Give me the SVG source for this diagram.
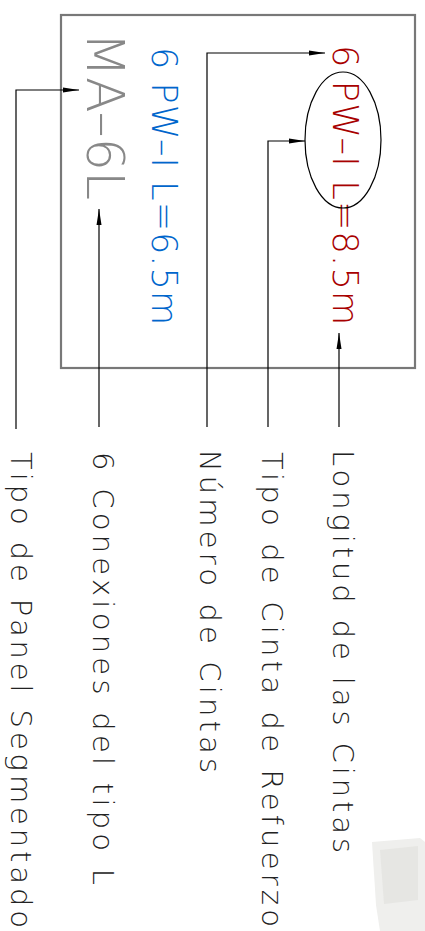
<svg xmlns="http://www.w3.org/2000/svg" width="425" height="931" viewBox="0 0 425 931">
<style>
.lbl{font-family:"DejaVu Sans","Liberation Sans",sans-serif;font-weight:200;font-size:29px;fill:#222;}
.main{font-family:"DejaVu Sans","Liberation Sans",sans-serif;font-weight:200;font-size:35px;}
.ln{fill:none;stroke:#000;stroke-width:1.2;}
</style>
<defs>
<marker id="ah" markerUnits="userSpaceOnUse" markerWidth="17" markerHeight="6" refX="16" refY="3" orient="auto">
<path d="M0,0.5 L16,3 L0,5.5 Z" fill="#000"/>
</marker>
</defs>
<rect width="425" height="931" fill="#fff"/>
<path d="M372,842 L420,838 L425,842 L425,931 L380,931 L376,905 Z" fill="#efefed"/>
<path d="M380,850 L418,846 L418,900 L384,904 Z" fill="#e6e6e3"/>
<g id="panel">
<rect x="61" y="15" width="354" height="353" fill="none" stroke="#787878" stroke-width="2.2"/>
</g>
<g id="red-text">
<text class="main" fill="#a80000" transform="translate(333,45) rotate(90)" textLength="280" lengthAdjust="spacing">6 PW–I L=8.5m</text>
</g>
<g id="ellipse">
<ellipse cx="343" cy="140" rx="38" ry="68" fill="none" stroke="#000" stroke-width="1.2"/>
</g>
<g id="blue-text">
<text class="main" fill="#0066cc" transform="translate(152,47) rotate(90)" textLength="278" lengthAdjust="spacing">6 PW–I L=6.5m</text>
</g>
<g id="gray-text">
<text class="main" style="font-size:52px" fill="#888" transform="translate(87,32) rotate(90)" textLength="168" lengthAdjust="spacingAndGlyphs">MA–6L</text>
</g>
<g id="connectors">
<path class="ln" d="M339,427 L339,333" marker-end="url(#ah)"/>
<path class="ln" d="M268,427 L268,141 L305,141" marker-end="url(#ah)"/>
<path class="ln" d="M207,427 L207,53 L325,53" marker-end="url(#ah)"/>
<path class="ln" d="M99,427 L99,209" marker-end="url(#ah)"/>
<path class="ln" d="M16,429 L16,90 L79,90" marker-end="url(#ah)"/>
</g>
<g id="label-longitud">
<text class="lbl" transform="translate(333,450) rotate(90)" textLength="403" lengthAdjust="spacing">Longitud de las Cintas</text>
</g>
<g id="label-tipo-cinta">
<text class="lbl" transform="translate(262,452) rotate(90)" textLength="475" lengthAdjust="spacing">Tipo de Cinta de Refuerzo</text>
</g>
<g id="label-numero">
<text class="lbl" transform="translate(200,450) rotate(90)" textLength="323" lengthAdjust="spacing">Número de Cintas</text>
</g>
<g id="label-conexiones">
<text class="lbl" transform="translate(93,452) rotate(90)" textLength="433" lengthAdjust="spacing">6 Conexiones del tipo L</text>
</g>
<g id="label-panel">
<text class="lbl" transform="translate(11,452) rotate(90)" textLength="476" lengthAdjust="spacing">Tipo de Panel Segmentado</text>
</g>
</svg>
